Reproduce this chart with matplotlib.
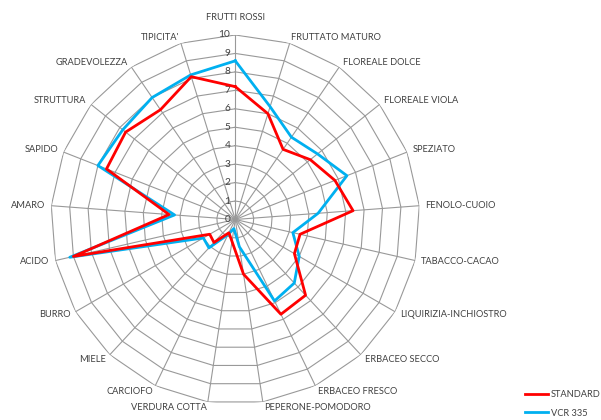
import numpy as np
import matplotlib
matplotlib.use("Agg")
import matplotlib.pyplot as plt

plt.rcParams['font.family'] = ['Lato', 'DejaVu Sans']

# categories, clockwise from the top
categories = ["FRUTTI ROSSI", "FRUTTATO MATURO", "FLOREALE DOLCE", "FLOREALE VIOLA",
              "SPEZIATO", "FENOLO-CUOIO", "TABACCO-CACAO", "LIQUIRIZIA-INCHIOSTRO",
              "ERBACEO SECCO", "ERBACEO FRESCO", "PEPERONE-POMODORO", "VERDURA COTTA",
              "CARCIOFO", "MIELE", "BURRO", "ACIDO", "AMARO", "SAPIDO", "STRUTTURA",
              "GRADEVOLEZZA", "TIPICITA'"]
standard = [7.2, 6.0, 4.6, 5.2, 5.8, 6.4, 3.6, 3.7, 5.6, 5.7, 3.0,
            1.2, 0.8, 1.7, 1.6, 9.0, 3.6, 7.5, 7.6, 7.2, 8.1]
vcr335 = [8.6, 6.4, 5.4, 5.7, 6.5, 4.5, 3.2, 4.0, 4.7, 4.9, 1.5,
          0.5, 0.9, 2.1, 2.0, 9.2, 3.3, 8.0, 7.8, 8.0, 8.2]
ticks = list(range(0, 11))

n = len(categories)
theta = np.arange(n) * 2 * np.pi / n
theta_c = np.append(theta, theta[0])

fig = plt.figure(figsize=(6.01, 4.20), dpi=100)
ax = fig.add_axes([0.0845, 0.0381, 0.614, 0.8786], projection='polar')
ax.set_theta_zero_location('N')
ax.set_theta_direction(-1)
ax.set_ylim(0, 10)
ax.grid(False)
ax.set_xticks([])
ax.set_yticks([])
ax.spines['polar'].set_visible(False)

grid_col = '#999999'
# polygon rings
for r in ticks[1:]:
    ax.plot(theta_c, [r] * (n + 1), color=grid_col, lw=0.8, zorder=1)
# spokes
for t in theta:
    ax.plot([t, t], [0, 10], color=grid_col, lw=0.8, zorder=1)

# data
l2, = ax.plot(theta_c, vcr335 + vcr335[:1], color='#00b0f0', lw=2, zorder=3, label='VCR 335')
l1, = ax.plot(theta_c, standard + standard[:1], color='#ff0000', lw=2, zorder=4, label='STANDARD')

# value labels
for v in ticks:
    ax.annotate(str(v), xy=(0, v), xytext=(-5, 0), textcoords='offset pixels',
                ha='right', va='center', fontsize=7.3, color='#404040')

# category labels
for t, name in zip(theta, categories):
    s, c = np.sin(t), np.cos(t)
    if abs(s) < 0.05:
        ha = 'center'
    elif s > 0:
        ha = 'left'
    else:
        ha = 'right'
    dx, dy = 6 * s, 6 * c
    if name == "FRUTTI ROSSI":
        dy = 17
    ax.annotate(name, xy=(t, 10), xytext=(dx, dy), textcoords='offset pixels',
                ha=ha, va='center', fontsize=6.7, color='#404040', annotation_clip=False)

fig.legend(handles=[l1, l2], loc='upper left', bbox_to_anchor=(0.8735, 0.072),
           bbox_transform=fig.transFigure, frameon=False, fontsize=6.7,
           handlelength=2.5, handletextpad=0.3, labelspacing=1.05,
           borderpad=0, borderaxespad=0, labelcolor='#404040')

fig.savefig('out.png', dpi=100)
